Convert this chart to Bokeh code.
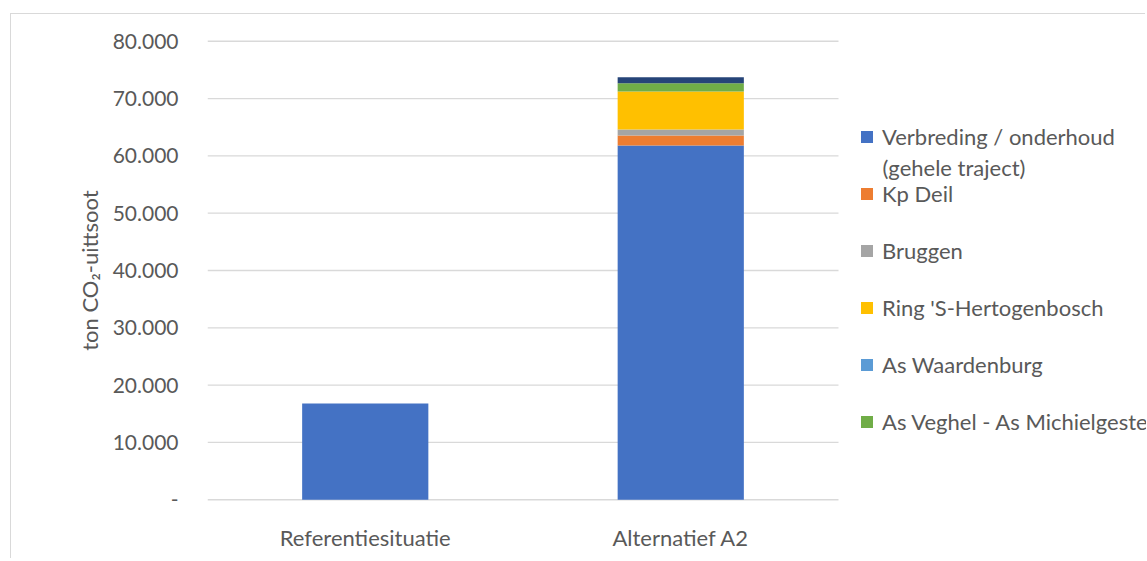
from bokeh.plotting import figure
from bokeh.models import (ColumnDataSource, Range1d, FixedTicker,
                          CustomJSTickFormatter, Legend, LegendItem, Label)
from bokeh.embed import file_html
from bokeh.resources import INLINE

categories = ["Referentiesituatie", "Alternatief A2"]
series_names = ["Verbreding / onderhoud", "Kp Deil", "Bruggen",
                "Ring 'S-Hertogenbosch", "As Waardenburg",
                "As Veghel - As Michielgestel", "Overig"]
verbreding = [16800, 61800]
kp_deil = [0, 1750]
bruggen = [0, 1050]
ring = [0, 6650]
waardenburg = [0, 0]
veghel = [0, 1400]
overig = [0, 1050]
colors = ["#4472C4", "#ED7D31", "#A5A5A5", "#FFC000", "#5B9BD5", "#70AD47", "#264478"]
y_ticks = [0, 10000, 20000, 30000, 40000, 50000, 60000, 70000, 80000]

FONT = "Lato"
TXT = "#595959"
FS = "21px"
FS_BIG = "22px"

# category slots: category i is centred at i + 0.5
xpos = [i + 0.5 for i in range(len(categories))]
n_cat = len(categories)

keys = ["s0", "s1", "s2", "s3", "s4", "s5", "s6"]
data = dict(x=xpos)
for k, v in zip(keys, [verbreding, kp_deil, bruggen, ring, waardenburg, veghel, overig]):
    data[k] = v
src = ColumnDataSource(data)

W, H = 1135, 545
LEFT, TOP, BOTTOM = 196, 21, 54
frame_w = W - LEFT
cat_px = 315.5
p = figure(width=W, height=H, x_range=Range1d(0, frame_w / cat_px),
           y_range=Range1d(-1000, 81000), output_backend="svg",
           toolbar_location=None,
           min_border_left=LEFT, min_border_right=0, min_border_top=TOP,
           min_border_bottom=BOTTOM)
p.styles = {"margin-left": "10px", "margin-top": "13px",
            "border-left": "1px solid #d9d9d9", "border-top": "1px solid #d9d9d9"}
p.outline_line_color = None
p.background_fill_color = "white"
p.xgrid.grid_line_color = None
p.ygrid.grid_line_color = None

# horizontal gridlines spanning the category area
p.segment(x0=[0] * len(y_ticks), x1=[n_cat] * len(y_ticks), y0=y_ticks, y1=y_ticks,
          line_color="#d9d9d9", line_width=1.3)

renderers = p.vbar_stack(keys, x="x", width=0.4, source=src, color=colors,
                         line_color=None)

p.yaxis.ticker = FixedTicker(ticks=y_ticks)
p.yaxis.formatter = CustomJSTickFormatter(code="""
    if (tick == 0) { return '-'; }
    return Math.round(tick/1000) + '.000';
""")
p.xaxis.ticker = FixedTicker(ticks=xpos)
p.xaxis.major_label_overrides = {x: c for x, c in zip(xpos, categories)}
for ax in (p.xaxis, p.yaxis):
    ax.axis_line_color = None
    ax.major_tick_line_color = None
    ax.minor_tick_line_color = None
    ax.major_label_text_font = FONT
    ax.major_label_text_font_size = FS
    ax.major_label_text_color = TXT
p.xaxis.major_label_text_font_size = FS_BIG
p.yaxis.major_label_standoff = 23
p.xaxis.major_label_standoff = 12
p.yaxis.axis_label = "ton CO\u2082-uittsoot"
p.yaxis.axis_label_text_font = FONT
p.yaxis.axis_label_text_font_size = FS_BIG
p.yaxis.axis_label_text_font_style = "normal"
p.yaxis.axis_label_text_color = TXT
p.yaxis.axis_label_standoff = 7

items = [LegendItem(label=series_names[i], renderers=[renderers[i]]) for i in range(6)]
legend = Legend(items=items, location=(652, 70), orientation="vertical",
                glyph_width=15, glyph_height=15, label_height=28, spacing=29,
                padding=0, margin=0, border_line_color=None,
                background_fill_alpha=0, label_text_font=FONT,
                label_text_font_size=FS_BIG, label_text_color=TXT,
                label_standoff=8)
p.add_layout(legend, "center")

p.add_layout(Label(x=675, y=338, x_units="screen", y_units="screen",
                   text="(gehele traject)", text_font=FONT,
                   text_font_size=FS_BIG, text_color=TXT,
                   text_baseline="middle"))

open("out.html", "w").write(file_html(p, INLINE))
